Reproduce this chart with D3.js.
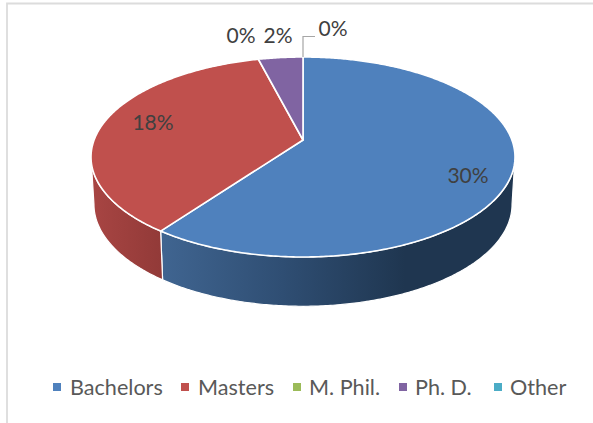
<!DOCTYPE html>
<html><head><meta charset="utf-8">
<script src="https://cdn.jsdelivr.net/npm/d3@7"></script>
<style>html,body{margin:0;padding:0;background:#fff}svg{display:block}text{font-family:"Lato",sans-serif}</style>
</head><body><svg id="c" width="593" height="423"></svg>
<script>
const categories = ["Bachelors","Masters","M. Phil.","Ph. D.","Other"];
const values = [30,18,0,2,0];
const labels = ["30%","18%","0%","2%","0%"];
const colors = ["#4f81bd","#c0504d","#9bbb59","#8064a2","#4bacc6"];
const labelX = [468,153,241,278,333];
const labelY = [176,123,36,36,29];
const legendSwatchX = [53,181,293,399,494];
const legendTextX = [70,198,309,415,510];

const svg = d3.select("#c");
const W=593,H=423;
svg.append("rect").attr("width",W).attr("height",H).attr("fill","#fff");
svg.append("path").attr("d",`M7 ${H}V3.5H${W}`).attr("fill","none").attr("stroke","#dcdcdc").attr("stroke-width",1.8);

const pie = d3.pie().sort(null).value(d=>d);
const arcs = pie(values);
const cx=303, cy=140, k=-0.17;
function proj(a, A, B, dy){ const X=Math.sin(a),Y=-Math.cos(a),w=1+k*Y; return [cx+A*X/w, cy+dy+B*Y/w]; }
const top_=a=>proj(a,208.9,97.1,0);
const bot=a=>proj(a,206,99,47);
const line=d3.line();
function rim(f,a0,a1){ const n=Math.max(2,Math.ceil(Math.abs(a1-a0)/0.01)); return d3.range(n+1).map(i=>f(a0+(a1-a0)*i/n)); }

const defs=svg.append("defs");
const gb=defs.append("linearGradient").attr("id","gb").attr("gradientUnits","userSpaceOnUse").attr("x1",160).attr("x2",405).attr("y1",0).attr("y2",0);
gb.append("stop").attr("offset",0).attr("stop-color","#406591");
gb.append("stop").attr("offset",0.5).attr("stop-color","#2f4e73");
gb.append("stop").attr("offset",1).attr("stop-color","#1f3650");
const gr=defs.append("linearGradient").attr("id","gr").attr("gradientUnits","userSpaceOnUse").attr("x1",91).attr("x2",162).attr("y1",0).attr("y2",0);
gr.append("stop").attr("offset",0).attr("stop-color","#a84543");
gr.append("stop").attr("offset",1).attr("stop-color","#923a38");

const visA=d3.scaleLinear().domain([0,1]).range([99.8*Math.PI/180,260.2*Math.PI/180]);
const wallFill=["url(#gb)","url(#gr)"];
arcs.forEach((d,i)=>{
  const a0=Math.max(d.startAngle,visA(0)), a1=Math.min(d.endAngle,visA(1));
  if(a1<=a0) return;
  const p=rim(top_,a0,a1).concat(rim(bot,a1,a0));
  svg.append("path").attr("d",line(p)+"Z").attr("fill",wallFill[i]||colors[i]).attr("stroke","#fff").attr("stroke-width",1.2);
});
arcs.forEach((d,i)=>{
  if(d.endAngle-d.startAngle<=0) return;
  const p=[proj(0,0,0,0)].concat(rim(top_,d.startAngle,d.endAngle));
  svg.append("path").attr("d",line(p)+"Z").attr("fill",colors[i]).attr("stroke","#fff").attr("stroke-width",1.6).attr("stroke-linejoin","round");
});
const lp=top_(arcs[4].startAngle);
svg.append("path").attr("d",line([[lp[0],lp[1]],[lp[0],36.5],[315,36.5]])).attr("fill","none").attr("stroke","#a6a6a6").attr("stroke-width",1.2);

labels.forEach((t,i)=>svg.append("text").attr("x",labelX[i]).attr("y",labelY[i]).attr("dy","0.35em").attr("text-anchor","middle").attr("font-size",21).attr("fill","#404040").text(t));
categories.forEach((c,i)=>{
  svg.append("rect").attr("x",legendSwatchX[i]).attr("y",383).attr("width",8).attr("height",8).attr("fill",colors[i]);
  svg.append("text").attr("x",legendTextX[i]).attr("y",387).attr("dy","0.35em").attr("font-size",21.6).attr("fill","#595959").text(c);
});
</script></body></html>
